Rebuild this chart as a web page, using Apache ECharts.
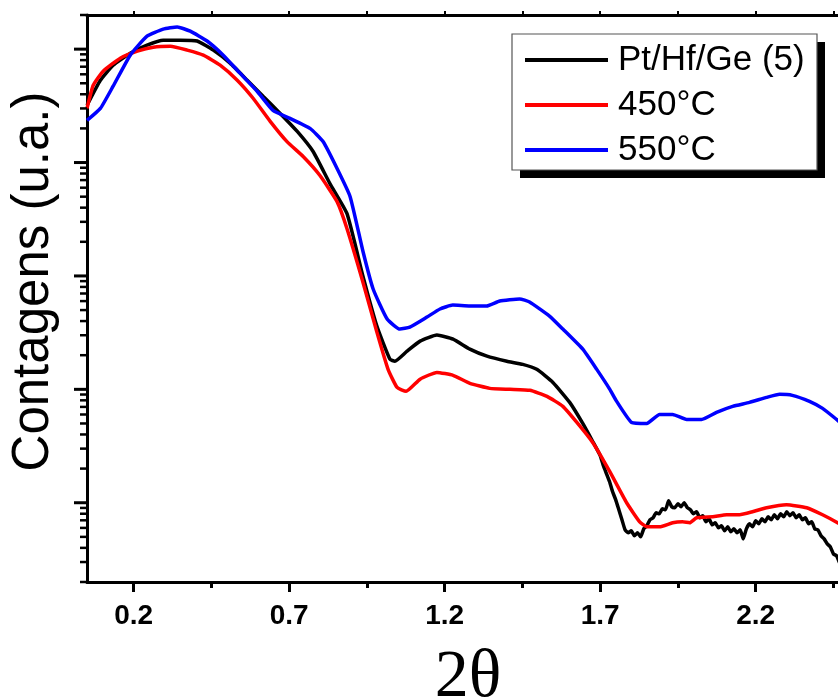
<!DOCTYPE html>
<html>
<head>
<meta charset="utf-8">
<script src="https://cdn.jsdelivr.net/npm/echarts@6/dist/echarts.min.js"></script>
<style>html,body{margin:0;padding:0;background:#fff}#c{width:838px;height:700px}</style>
</head>
<body>
<div id="c"></div>
<script>
// ---- data (2θ, counts) ----
const seriesNames = ['Pt/Hf/Ge (5)', '450°C', '550°C'];
const seriesColors = ['#000000', '#ff0000', '#0000ff'];

const blackX = [0.05,0.093,0.134,0.189,0.243,0.295,0.350,0.404,0.456,0.510,0.565,0.616,0.671,0.726,0.777,0.831,0.886,0.937,0.982,1.024,1.040,1.079,1.121,1.175,1.227,1.281,1.336,1.400,1.451,1.496,1.548,1.602,1.644,1.676,
  1.70,1.71,1.72,1.73,1.74,1.75,1.76,1.77,1.78,1.79,1.80,1.81,1.82,1.83,1.84,1.85,1.86,1.87,1.88,1.89,1.90,1.91,1.92,1.93,1.94,1.95,1.96,1.97,1.98,1.99,
  2.00,2.01,2.02,2.03,2.04,2.05,2.06,2.07,2.08,2.09,2.10,2.11,2.12,2.13,2.14,2.15,2.16,2.17,2.18,2.19,2.20,2.21,2.22,2.23,2.24,2.25,2.26,2.27,2.28,2.29,
  2.30,2.31,2.32,2.33,2.34,2.35,2.36,2.37,2.38,2.39,2.40,2.41,2.42,2.43,2.44,2.45,2.46,2.47,2.48];
const blackY = [32000,53200,72200,92200,108500,120000,120000,118000,98000,75200,53200,38400,27100,18800,12500,6520,3540,1000,361,184,177,217,266,301,277,226,196,177,166,150,115,76.7,50.0,34.7,
  26.1,21.3,18.1,15.4,12.5,10.6,8.67,7.08,5.77,5.43,5.65,5.11,5.43,5.00,5.89,6.26,7.08,7.37,8.16,7.99,8.85,8.67,10.4,9.22,9.04,9.80,9.22,10.0,9.04,8.67,
  7.99,8.33,7.37,7.68,6.79,7.22,6.39,6.66,6.01,6.26,5.65,6.13,5.54,5.89,5.43,5.77,4.80,5.89,6.52,6.13,6.93,6.52,7.22,6.79,7.52,7.08,7.83,7.22,7.99,7.52,
  8.33,7.68,8.16,7.37,7.83,7.08,7.37,6.52,6.79,5.89,5.77,5.11,4.80,4.34,4.08,3.54,3.40,2.95,2.77];

const redX = [0.05,0.070,0.102,0.157,0.212,0.263,0.318,0.372,0.424,0.478,0.533,0.584,0.639,0.693,0.745,0.799,0.854,0.886,0.937,0.982,1.018,1.047,1.076,1.121,1.175,1.227,1.281,1.345,1.410,1.474,1.529,1.580,1.625,1.676,1.731,1.785,1.827,1.850,1.891,1.933,1.965,1.988,2.010,2.062,2.107,2.148,2.190,2.235,2.299,2.364,2.415,2.463,2.50];
const redY = [30000,48000,63900,83300,96000,104000,106000,98000,88500,72200,53200,36900,23100,15300,11300,7680,4520,2610,885,320,150,104,96,123,141,133,113,102,100,98,86.7,70.8,51.1,34.0,18.8,10.0,6.79,6.13,6.13,6.66,6.79,6.66,7.37,7.52,7.83,7.83,8.33,9.04,9.61,9.04,7.83,6.66,5.77];

const blueX = [0.05,0.093,0.134,0.189,0.243,0.295,0.340,0.382,0.436,0.488,0.542,0.597,0.648,0.703,0.767,0.809,0.854,0.896,0.937,0.970,1.015,1.056,1.088,1.143,1.185,1.226,1.281,1.335,1.377,1.441,1.473,1.537,1.580,1.644,1.689,1.731,1.753,1.801,1.850,1.891,1.933,1.978,2.026,2.074,2.126,2.180,2.235,2.277,2.318,2.373,2.415,2.460,2.50];
const blueY = [23500,30000,47100,88500,130000,150000,157000,144000,118000,88500,61400,42500,28800,24500,20000,15300,8850,5000,1660,767,417,340,354,434,511,553,543,543,601,627,589,443,340,226,150,100,78.3,51.1,50.0,60.1,60.1,54.3,54.3,62.7,70.8,76.7,84.9,90.4,88.5,78.3,67.9,54.3,44.0];

// ---- axes ----
const X_MIN = 0.05, X_MAX = 2.5;
const Y_MIN = 2, Y_MAX = 200000;
const xTickLabels = [0.2, 0.7, 1.2, 1.7, 2.2];
const xMinorTicks = [0.45, 0.95, 1.45, 1.95, 2.45];
const xTopTicks = [0.2, 0.45, 0.7, 0.95, 1.2, 1.45, 1.7, 1.95, 2.2, 2.45];
const yMajorTicks = [10, 100, 1000, 10000, 100000];
const yMinorTicks = [];
for (let p = 1; p <= 100000; p *= 10) for (let m = 2; m <= 9; m++) { const v = m * p; if (v >= Y_MIN && v <= Y_MAX) yMinorTicks.push(v); }

const zip = (xs, ys) => xs.map((x, i) => [x, ys[i]]);
const tickData = yMajorTicks.map(v => [X_MIN, v, 1]).concat(yMinorTicks.map(v => [X_MIN, v, 0]));

const chart = echarts.init(document.getElementById('c'), null, {renderer: 'canvas'});
const lineSeries = [zip(blackX, blackY), zip(redX, redY), zip(blueX, blueY)].map((d, i) => ({
  name: seriesNames[i], type: 'line', data: d, showSymbol: false, smooth: 0.15,
  lineStyle: {color: seriesColors[i], width: 3.5}, itemStyle: {color: seriesColors[i]},
  xAxisIndex: 0, yAxisIndex: 0, z: 3 + i
}));

// legend frame (box + hard drop shadow)
const LG = {x: 512, y: 34, w: 305, h: 136, shadow: 8};

chart.setOption({
  animation: false,
  backgroundColor: '#fff',
  grid: {left: 87, top: 15, bottom: 118, right: -11, containLabel: false, outerBoundsMode: 'none'},
  graphic: [
    {type: 'rect', z: 20, shape: {x: LG.x + LG.shadow, y: LG.y + LG.shadow, width: LG.w, height: LG.h}, style: {fill: '#000'}},
    {type: 'rect', z: 21, shape: {x: LG.x, y: LG.y, width: LG.w, height: LG.h}, style: {fill: '#fff', stroke: '#555', lineWidth: 1.2}}
  ],
  legend: {
    data: seriesNames, orient: 'vertical', left: LG.x, top: LG.y, z: 30,
    icon: 'rect', itemWidth: 83, itemHeight: 4, itemGap: 9,
    padding: [8, 4, 3, 13],
    textStyle: {fontFamily: 'Liberation Sans', fontSize: 35, color: '#000', lineHeight: 36, padding: [0, 0, 0, 5]}
  },
  xAxis: [
    {type: 'value', min: X_MIN, max: X_MAX, position: 'bottom',
     axisLine: {lineStyle: {color: '#000', width: 3}},
     axisTick: {customValues: xTickLabels, length: 10, lineStyle: {color: '#000', width: 3}},
     axisLabel: {customValues: xTickLabels, formatter: v => v.toFixed(1), fontFamily: 'Liberation Sans', fontWeight: 'bold', fontSize: 28, color: '#000', margin: 20},
     splitLine: {show: false},
     name: '2θ', nameLocation: 'middle', nameGap: 62,
     nameTextStyle: {fontFamily: 'Liberation Serif', fontSize: 68, color: '#000'}},
    {type: 'value', min: X_MIN, max: X_MAX, position: 'bottom',
     axisLine: {show: false},
     axisTick: {customValues: xMinorTicks, length: 6, lineStyle: {color: '#000', width: 3}},
     axisLabel: {show: false}, splitLine: {show: false}},
    {type: 'value', min: X_MIN, max: X_MAX, position: 'top',
     axisLine: {lineStyle: {color: '#000', width: 3}},
     axisTick: {customValues: xTopTicks, length: 4, lineStyle: {color: '#000', width: 2}},
     axisLabel: {show: false}, splitLine: {show: false}}
  ],
  yAxis: [
    {type: 'log', logBase: 10, min: Y_MIN, max: Y_MAX, position: 'left',
     axisLine: {show: true, lineStyle: {color: '#000', width: 3}},
     axisTick: {show: false}, axisLabel: {show: false}, splitLine: {show: false},
     name: 'Contagens (u.a.)', nameLocation: 'middle', nameGap: 28, nameRotate: 90,
     nameTextStyle: {fontFamily: 'Liberation Sans', fontSize: 51, color: '#000', padding: [0, 0, 0, 34]}}
  ],
  series: lineSeries.concat([{
    type: 'custom', name: 'yticks', coordinateSystem: 'cartesian2d', xAxisIndex: 0, yAxisIndex: 0,
    clip: false, silent: true, z: 10,
    encode: {x: 0, y: 1},
    data: tickData,
    renderItem: function (params, api) {
      const p = api.coord([api.value(0), api.value(1)]);
      const major = api.value(2) === 1;
      const len = major ? 13 : 7;
      return {type: 'line', shape: {x1: p[0] - len, y1: p[1], x2: p[0], y2: p[1]},
              style: {stroke: '#000', lineWidth: major ? 3 : 2.5}};
    }
  }])
});
</script>
</body>
</html>
